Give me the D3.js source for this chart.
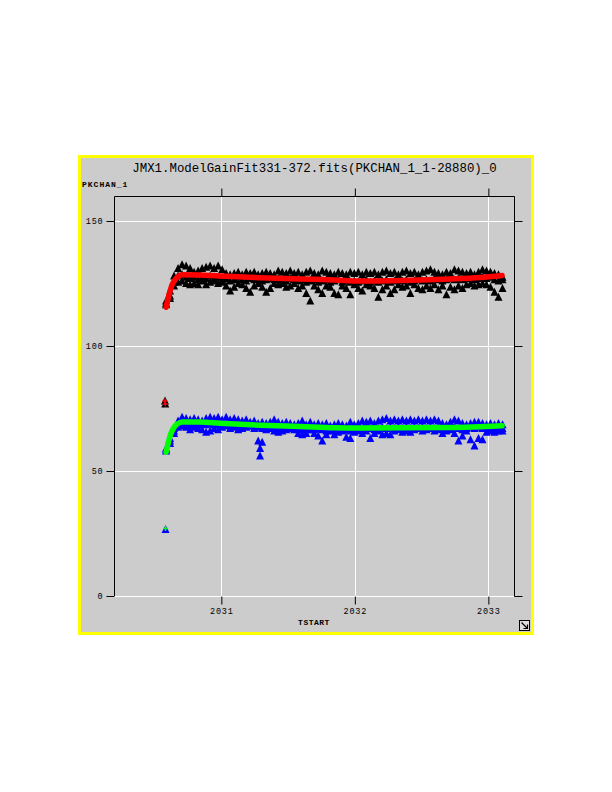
<!DOCTYPE html>
<html><head><meta charset="utf-8">
<script src="https://cdn.jsdelivr.net/npm/d3@7"></script>
<style>body{margin:0;background:#fff}svg{display:block}</style>
</head><body>
<script>
// ---------- data ----------
const title = "JMX1.ModelGainFit331-372.fits(PKCHAN_1_1-28880)_0";
const yTitle = "PKCHAN_1";
const xTitle = "TSTART";
const xTicks = [2031, 2032, 2033];
const yTicks = [0, 50, 100, 150];
// sample times (years), regular cadence
const tStart = 2030.586, tStep = 0.03;
const blackHi = [118,122,128,131,132.5,132,131,129.5,130,131,131.5,132,131,132,130.5,129,128.5,129,129.5,128.5,129.5,129,129.5,128.5,129,129.5,129,128.5,130,129.5,129,130,129,129.5,128.5,129.5,130,129,128.5,130,129.5,129,128.5,129.5,129,128.5,129.5,129,129.5,128.5,129.5,129,129.5,128.5,129.5,130,129,129.5,128.5,129.5,130,129,129.5,128.5,129.5,130,130.5,129.5,129,128.5,129.5,129,130.5,130,129.5,129,129.5,128.5,129.5,130.5,130,129.5,129,128.5,127.5];
const blackMid = [116.5,120,125.5,128,128.5,127.5,127,127.5,126.5,127.5,127,128,127,127.5,126.5,127,126,126.5,127.5,126.5,126,127,126.5,127,126,126.5,127,126.5,127,126.5,126,127,126.5,126,126.5,125.5,126,126.5,125.5,126,126.5,125.5,126,126.5,125.5,126,125.5,126,125.5,126,126.5,125.5,126,125.5,126,126.5,125.5,126,126.5,126,126.5,125.5,126,126.5,126,126.5,126,127,126.5,126,126.5,127,126.5,127,126.5,127,127.5,126.5,127,127.5,127,127.5,126.5,126,126.5];
const blackLo = [117,119,124,125.5,126,125,124.5,125,124.5,126,124.5,125.5,126,125,125.5,124,122,123.5,125,124.5,123,121.5,124,125,123.5,121.5,123,125,124.5,125,123.5,124,125,123,124,121,118,124,122.5,121,124,123.5,121,120.5,124,123,120.5,124.5,123,122,124.5,124,123,119.5,122.5,124,121,122.5,124.5,123.5,124,121,124.5,123,122.5,124,123,124.5,122.5,124,120.5,123.5,122.5,124,123,124.5,125,124,124.5,125,124.5,123.5,121.5,119.5,123];
const blueHi = [59,63,67,70,71.5,71,70.5,71,70.5,70,71,71.5,71,71.5,70.5,71.5,70.5,71,70.5,70,70.5,69.5,70,69,69.5,69,69.5,70.5,69.5,69,69.5,69,68.5,69,70,68.5,69.5,68.5,69,68.5,69,68,68.5,69,68.5,68,69.5,68.5,69,70,69.5,70,69,70,70.5,71,70,70.5,70,70.5,70,70.5,70,70.5,70,70.5,70,70.5,70,69,68.5,69.5,70.5,70,69,68.5,69,69.5,69.5,69,68.5,69,68.5,69,68.5];
const blueMid = [58.5,62,66,68.5,69.5,69,68.5,69,68.5,69,68.5,69,68.5,69,68.5,69,68.5,68,68.5,68,68.5,68,68.5,67.5,67,67.5,68,67.5,67,67.5,67,67.5,67,66.5,67,66.5,67,66.5,67,66.5,66,66.5,67,66.5,67,66.5,66,67,66.5,67,67.5,67,66.5,67,67.5,67,67.5,67,67.5,67,67.5,67,67.5,67,67.5,67,67.5,67,67.5,67,66.5,67,67.5,67,66.5,67,67.5,67,67.5,67,67,67.5,67,67.5,67];
const blueLo = [58,61,65,67.5,68,67.5,66.5,67.5,67,66.5,65.5,66,67,66.5,67.5,68,67,67.5,66.5,67,67.5,68,67,62,61.5,66.5,67,66,65.5,66,66.5,67,66.5,65,64.5,65,66.5,65,64,62,64.5,66,64.5,65.5,66,63.5,63,65.5,66,65,66,63,65,66,64.5,65,64.5,66,66.5,65.5,66,65.5,66.5,67,66,66.5,67,66,66.5,65,66,66.5,65,62,64,66,62.5,60,63,62.5,65.5,66,65.5,66,66];
// isolated points
const blackExtraT = [2030.578, 2030.580];
const blackExtraV = [78, 76.8];
const blueExtraT = [2031.29, 2031.29, 2030.582];
const blueExtraV = [59, 56, 26.6];
// model fits
const redFitT = [2030.586,2030.601,2030.616,2030.631,2030.653,2030.676,2030.706,2030.840,2030.990,2031.290,2031.590,2031.852,2032.039,2032.339,2032.488,2032.713,2032.938,2033.103];
const redFitV = [115.5,119,122,124.5,126.5,127.8,128.5,128.4,128,127.3,126.8,126.4,126,126.2,126.4,126.8,127.4,128.2];
const greenFitT = [2030.586,2030.601,2030.616,2030.631,2030.653,2030.676,2030.706,2030.840,2030.990,2031.290,2031.590,2031.852,2032.039,2032.339,2032.713,2032.938,2033.103];
const greenFitV = [57.5,61,64,66,68,69,69.6,69.6,69.1,68.3,67.8,67.3,67.2,67.3,67.4,67.7,68.1];

// ---------- drawing ----------
const W = 612, H = 792;
const svg = d3.select("body").append("svg").attr("width", W).attr("height", H);
svg.append("rect").attr("width", W).attr("height", H).attr("fill", "#fff");
svg.append("rect").attr("x", 79.5).attr("y", 156.5).attr("width", 453).attr("height", 477)
  .attr("fill", "#cccccc").attr("stroke", "#ffff00").attr("stroke-width", 3);

const L = 114, R = 514, T = 196, B = 596;
const x = d3.scaleLinear().domain([2030.196, 2033.192]).range([L, R]);
const y = d3.scaleLinear().domain([0, 160]).range([B, T]);

const mono = "'Liberation Mono', 'DejaVu Sans Mono', monospace";

// title
svg.append("text").attr("x", 314.5).attr("y", 172).attr("text-anchor", "middle")
  .attr("font-family", mono).attr("font-size", 12.4).attr("fill", "#000").text(title);
svg.append("text").attr("x", 82).attr("y", 187).attr("font-family", mono)
  .attr("font-size", 8).attr("font-weight", "bold").attr("letter-spacing", 1).attr("fill", "#000").text(yTitle);

const g = svg.append("g");
// grid
g.selectAll(".hg").data(yTicks).join("line")
  .attr("x1", L).attr("x2", R).attr("y1", d => Math.round(y(d)) + 0.5).attr("y2", d => Math.round(y(d)) + 0.5)
  .attr("stroke", "#fff").attr("stroke-width", 1);
g.selectAll(".vg").data(xTicks).join("line")
  .attr("y1", T).attr("y2", B).attr("x1", d => Math.round(x(d)) + 0.5).attr("x2", d => Math.round(x(d)) + 0.5)
  .attr("stroke", "#fff").attr("stroke-width", 1);

// axes frame (left, top, right)
g.append("path").attr("d", `M${L+0.5},${B}V${T+0.5}H${R+0.5}V${B+0.5}`)
  .attr("fill", "none").attr("stroke", "#000").attr("stroke-width", 1);

// axes with ticks
const axL = d3.axisLeft(y).tickValues(yTicks).tickSize(8).tickPadding(3).tickFormat(d3.format("d"));
const axR = d3.axisRight(y).tickValues(yTicks).tickSize(8).tickFormat("");
const axT = d3.axisTop(x).tickValues(xTicks).tickSize(8).tickFormat("");
const axB = d3.axisBottom(x).tickValues(xTicks).tickSize(8).tickPadding(3).tickFormat(d3.format("d"));
function styleAxis(sel) {
  sel.select(".domain").remove();
  sel.selectAll("line").attr("stroke", "#000");
  sel.selectAll("text").attr("font-family", mono).attr("font-size", 8.5).attr("letter-spacing", 0.8).attr("fill", "#000");
}
svg.append("g").attr("transform", `translate(${L+0.5},0)`).call(axL).call(styleAxis);
svg.append("g").attr("transform", `translate(${R+0.5},0)`).call(axR).call(styleAxis);
svg.append("g").attr("transform", `translate(0,${T+0.5})`).call(axT).call(styleAxis);
svg.append("g").attr("transform", `translate(0,${B+0.5})`).call(axB).call(styleAxis);

svg.append("text").attr("x", 314).attr("y", 625).attr("text-anchor", "middle").attr("font-family", mono)
  .attr("font-size", 8).attr("font-weight", "bold").attr("letter-spacing", 0.5).attr("fill", "#000").text(xTitle);

// data points
const tri = "M0,-4.5L4,3.5L-4,3.5Z";
const plus = "M-2.5,0H2.5M0,-2.5V2.5";
function series(arrs) {
  const pts = [];
  arrs.forEach(a => a.forEach((v, i) => pts.push([tStart + i * tStep, v])));
  return pts;
}
const blackPts = series([blackHi, blackMid, blackLo]).concat(blackExtraT.map((t, i) => [t, blackExtraV[i]]));
const bluePts = series([blueHi, blueMid, blueLo]).concat(blueExtraT.map((t, i) => [t, blueExtraV[i]]));

const pg = svg.append("g");
pg.selectAll(".bk").data(blackPts).join("path").attr("d", tri)
  .attr("transform", d => `translate(${x(d[0])},${y(d[1])})`).attr("fill", "#000");
pg.selectAll(".bl").data(bluePts).join("path").attr("d", tri)
  .attr("transform", d => `translate(${x(d[0])},${y(d[1])})`).attr("fill", "#0000ff");

const line = d3.line().x(d => x(d[0])).y(d => y(d[1])).curve(d3.curveMonotoneX);
const redFit = redFitT.map((t, i) => [t, redFitV[i]]);
const greenFit = greenFitT.map((t, i) => [t, greenFitV[i]]);
pg.append("path").attr("d", line(redFit)).attr("fill", "none").attr("stroke", "#ff0000").attr("stroke-width", 5.5).attr("stroke-linecap", "round");
pg.append("path").attr("d", line(greenFit)).attr("fill", "none").attr("stroke", "#00ff00").attr("stroke-width", 5.5).attr("stroke-linecap", "round");
// fit markers on the rising part and on isolated points
pg.selectAll(".rp").data(redFit.slice(0, 4).concat(blackExtraT.map((t, i) => [t, blackExtraV[i]]))).join("path").attr("d", plus)
  .attr("transform", d => `translate(${x(d[0])},${y(d[1])})`).attr("stroke", "#ff0000").attr("stroke-width", 1.5).attr("fill", "none");
pg.selectAll(".gp").data(greenFit.slice(0, 4).concat([[blueExtraT[2], blueExtraV[2] + 0.4]])).join("path").attr("d", plus)
  .attr("transform", d => `translate(${x(d[0])},${y(d[1])})`).attr("stroke", "#00ff00").attr("stroke-width", 1.5).attr("fill", "none");

// resize icon bottom-right
const ic = svg.append("g").attr("transform", "translate(519.5,620.5)");
ic.append("rect").attr("width", 10).attr("height", 10).attr("fill", "#ddd").attr("stroke", "#000").attr("stroke-width", 1);
ic.append("path").attr("d", "M2,2L8,8M8,4V8H4").attr("fill", "none").attr("stroke", "#000").attr("stroke-width", 1.2);
</script>
</body></html>
